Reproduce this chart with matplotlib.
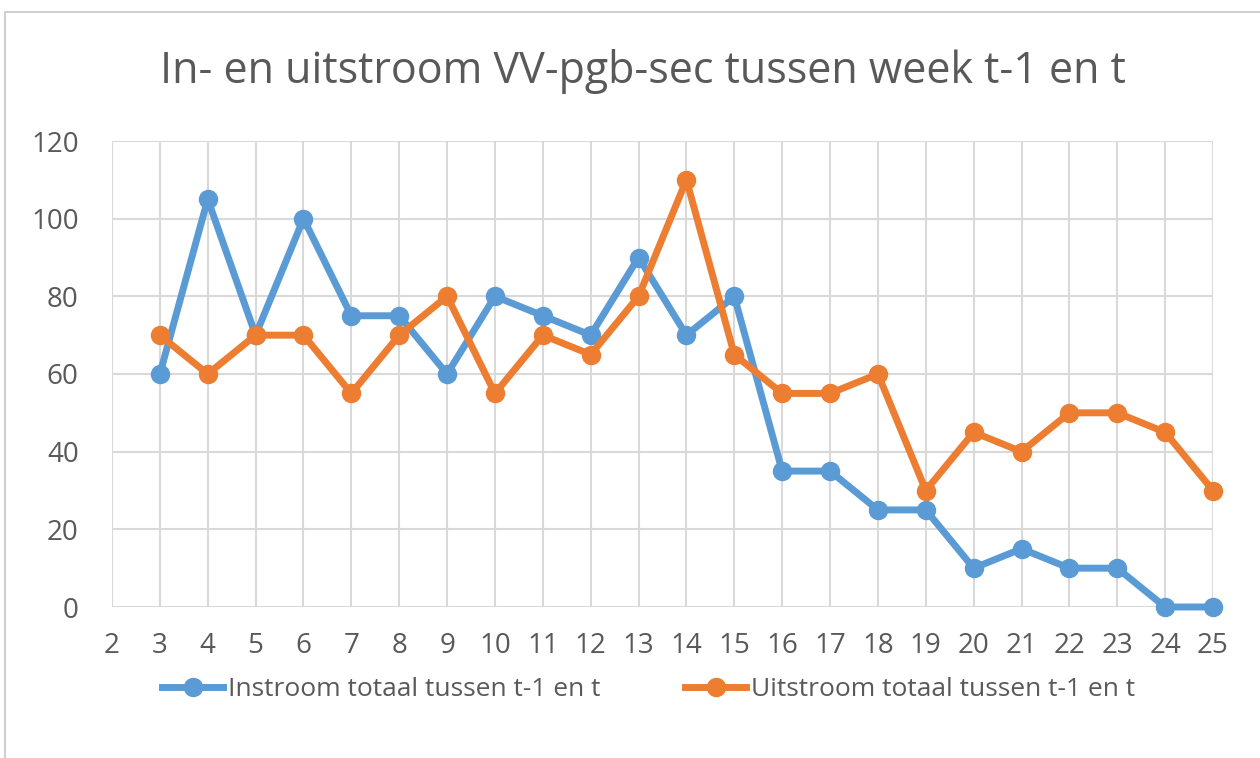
import matplotlib
matplotlib.use("Agg")
import matplotlib.pyplot as plt
from matplotlib.patches import Rectangle

weeks = list(range(3, 26))
instroom = [60, 105, 70, 100, 75, 75, 60, 80, 75, 70, 90, 70, 80,
            35, 35, 25, 25, 10, 15, 10, 10, 0, 0]
uitstroom = [70, 60, 70, 70, 55, 70, 80, 55, 70, 65, 80, 110, 65,
             55, 55, 60, 30, 45, 40, 50, 50, 45, 30]

title = "In- en uitstroom VV-pgb-sec tussen week t-1 en t"
label_in = "Instroom totaal tussen t-1 en t"
label_uit = "Uitstroom totaal tussen t-1 en t"

blue = "#5B9BD5"
orange = "#ED7D31"
grey = "#595959"
gridc = "#D9D9D9"

plt.rcParams['font.family'] = ['Open Sans', 'DejaVu Sans']

fig = plt.figure(figsize=(12.6, 7.58), dpi=100)
fig.patches.append(Rectangle((0.004, -0.01), 1.2, 0.994, transform=fig.transFigure,
                             fill=False, edgecolor="#D0D0D0", linewidth=1.5))

ax = fig.add_axes([112/1260, 1 - 607/758, (1213-112)/1260, (607-141)/758])
ax.plot(weeks, instroom, color=blue, lw=5, marker="o", ms=13, label=label_in,
        solid_joinstyle="round", zorder=3, clip_on=False)
ax.plot(weeks, uitstroom, color=orange, lw=5, marker="o", ms=13, label=label_uit,
        solid_joinstyle="round", zorder=4, clip_on=False)

ax.set_xlim(2, 25)
ax.set_ylim(0, 120)
ax.set_xticks(range(2, 26))
ax.set_yticks(range(0, 121, 20))
ax.grid(True, color=gridc, lw=1.5, zorder=0)
ax.set_axisbelow(True)
for s in ax.spines.values():
    s.set_visible(False)
ax.tick_params(length=0, labelsize=20, labelcolor=grey)
ax.tick_params(axis="x", pad=18)
ax.tick_params(axis="y", pad=24)

fig.text(0.51, 1 - 72/758, title, ha="center", va="center", fontsize=31, color=grey)

leg = fig.legend(loc="center", bbox_to_anchor=(0.515, 1 - 690/758), ncol=2, frameon=False,
                 fontsize=19, labelcolor=grey, handlelength=2.3, handletextpad=0.2,
                 columnspacing=3.2)

fig.savefig("out.png", dpi=100)
